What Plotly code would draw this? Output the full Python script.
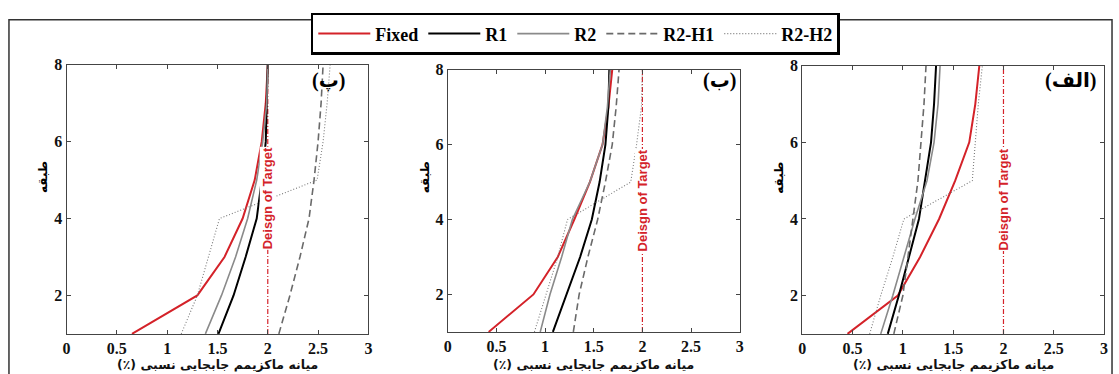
import plotly.graph_objects as go

W, H = 1119, 374

stories = [1, 2, 3, 4, 5, 6, 7, 8]
series_names = ["Fixed", "R1", "R2", "R2-H1", "R2-H2"]

# Panel (پ) - left
left_fixed = [0.65, 1.30, 1.57, 1.75, 1.87, 1.94, 1.98, 2.00]
left_r1 = [1.51, 1.66, 1.78, 1.89, 1.94, 1.98, 1.99, 2.00]
left_r2 = [1.38, 1.54, 1.68, 1.80, 1.89, 1.95, 1.99, 2.00]
left_r2h1 = [2.11, 2.22, 2.32, 2.41, 2.46, 2.50, 2.53, 2.55]
left_r2h2 = [1.14, 1.30, 1.41, 1.52, 2.49, 2.55, 2.59, 2.62]

# Panel (ب) - middle
mid_fixed = [0.42, 0.88, 1.13, 1.30, 1.46, 1.59, 1.65, 1.69]
mid_r1 = [1.08, 1.22, 1.36, 1.48, 1.56, 1.62, 1.65, 1.66]
mid_r2 = [0.95, 1.05, 1.17, 1.28, 1.46, 1.59, 1.64, 1.67]
mid_r2h1 = [1.29, 1.35, 1.44, 1.54, 1.62, 1.69, 1.73, 1.76]
mid_r2h2 = [0.89, 1.01, 1.13, 1.23, 1.88, 1.94, 1.99, 2.00]

# Panel (الف) - right
right_fixed = [0.45, 0.95, 1.17, 1.36, 1.52, 1.66, 1.72, 1.76]
right_r1 = [0.85, 0.96, 1.06, 1.16, 1.22, 1.28, 1.31, 1.33]
right_r2 = [0.78, 0.90, 1.01, 1.12, 1.24, 1.31, 1.35, 1.37]
right_r2h1 = [0.91, 1.00, 1.05, 1.10, 1.15, 1.18, 1.21, 1.23]
right_r2h2 = [0.67, 0.78, 0.90, 1.01, 1.69, 1.72, 1.75, 1.79]

target_value = 2.0
target_label = "Deisgn of Target"
panel_labels = ["(پ)", "(ب)", "(الف)"]
x_title = "\u200fمیانه ماکزیمم جابجایی نسبی (٪)\u200f"
y_title = "طبقه"
x_ticks = [0, 0.5, 1, 1.5, 2, 2.5, 3]
x_tick_text = ["0", "0.5", "1", "1.5", "2", "2.5", "3"]
y_ticks = [2, 4, 6, 8]

panels = [
    [left_fixed, left_r1, left_r2, left_r2h1, left_r2h2],
    [mid_fixed, mid_r1, mid_r2, mid_r2h1, mid_r2h2],
    [right_fixed, right_r1, right_r2, right_r2h1, right_r2h2],
]

RED = "#d42229"
styles = [
    dict(color=RED, width=2, dash="solid"),
    dict(color="#000000", width=2, dash="solid"),
    dict(color="#8a8a8a", width=1.6, dash="solid"),
    dict(color="#6a6a6a", width=1.6, dash="7px,4px"),
    dict(color="#7a7a7a", width=1.1, dash="1px,2px"),
]

SERIF = "Times New Roman, Liberation Serif, serif"

# pixel geometry of the three plot areas: (left, right, top, bottom)
boxes = [(63, 367, 58, 333), (447, 741, 63, 331), (804, 1108, 59, 333)]
label_inset = [22, 2, 5]

fig = go.Figure()
layout_axes = {}
annotations = []
for i, (series, box) in enumerate(zip(panels, boxes)):
    n = "" if i == 0 else str(i + 1)
    xa, ya = "x" + n, "y" + n
    l, r, t, b = box
    # design target line
    fig.add_trace(go.Scatter(x=[target_value, target_value], y=[stories[0], stories[-1]],
                             mode="lines", xaxis=xa, yaxis=ya, showlegend=False,
                             line=dict(color=RED, width=1.2, dash="5px,2px,1px,2px"),
                             hoverinfo="skip"))
    for name, vals, st in zip(series_names, series, styles):
        fig.add_trace(go.Scatter(x=vals, y=stories, mode="lines", name=name,
                                 xaxis=xa, yaxis=ya, showlegend=(i == 0),
                                 line=st))
    axis_common = dict(showline=True, linecolor="#444", linewidth=1, mirror="ticks",
                       ticks="inside", ticklen=4, tickcolor="#444", showgrid=False,
                       zeroline=False, ticklabeloverflow="allow",
                       tickfont=dict(family=SERIF, size=16, color="#111",
                                     weight="bold"))
    layout_axes["xaxis" + n] = dict(axis_common, domain=[l / W, r / W], range=[0, 3],
                                    tickvals=x_ticks, ticktext=x_tick_text, anchor=ya)
    layout_axes["yaxis" + n] = dict(axis_common, domain=[1 - b / H, 1 - t / H], range=[1, 8],
                                    tickvals=y_ticks, anchor=xa)
    # panel label
    annotations.append(dict(text=panel_labels[i], x=r - label_inset[i], y=74, xref="paper",
                            yref="paper", xanchor="right", yanchor="middle", showarrow=False,
                            font=dict(family=SERIF + ", DejaVu Sans", size=20,
                                      color="#000", weight="bold")))
    # target label
    annotations.append(dict(text=target_label, x=target_value, y=4.52, xref=xa, yref=ya,
                            textangle=-90, showarrow=False, bgcolor="white", borderpad=0,
                            font=dict(family="Liberation Sans", size=13, color=RED,
                                      weight="bold")))
    # axis titles
    annotations.append(dict(text=x_title, x=(l + r) / 2, y=364, xref="paper", yref="paper",
                            showarrow=False, xanchor="center", yanchor="middle",
                            font=dict(family="DejaVu Sans", size=12.5, color="#111",
                                      weight="bold")))
    annotations.append(dict(text=y_title, x=l - 23, y=173, xref="paper",
                            yref="paper", showarrow=False, textangle=-90,
                            xanchor="center", yanchor="middle",
                            font=dict(family="DejaVu Sans", size=12, color="#000",
                                      weight="bold")))

# convert pixel annotation positions to paper fractions
for a in annotations:
    if a["xref"] == "paper":
        a["x"] = a["x"] / W
        a["y"] = 1 - a["y"] / H

fig.update_layout(
    width=W, height=H,
    margin=dict(l=0, r=0, t=0, b=0),
    paper_bgcolor="white", plot_bgcolor="white",
    annotations=annotations,
    showlegend=True,
    legend=dict(orientation="h", x=309 / W, y=1 - 5 / H, xanchor="left", yanchor="top",
                bgcolor="white", bordercolor="#000", borderwidth=2.5,
                font=dict(family=SERIF, size=18, color="#000", weight="bold"),
                itemwidth=52, tracegroupgap=0),
    shapes=[dict(type="rect", xref="paper", yref="paper", x0=5 / W, x1=1116 / W,
                 y0=-0.2, y1=1 - 12 / H, line=dict(color="#333", width=1.5),
                 fillcolor="rgba(0,0,0,0)", layer="below")],
    **layout_axes,
)

fig.write_html("out.html")
